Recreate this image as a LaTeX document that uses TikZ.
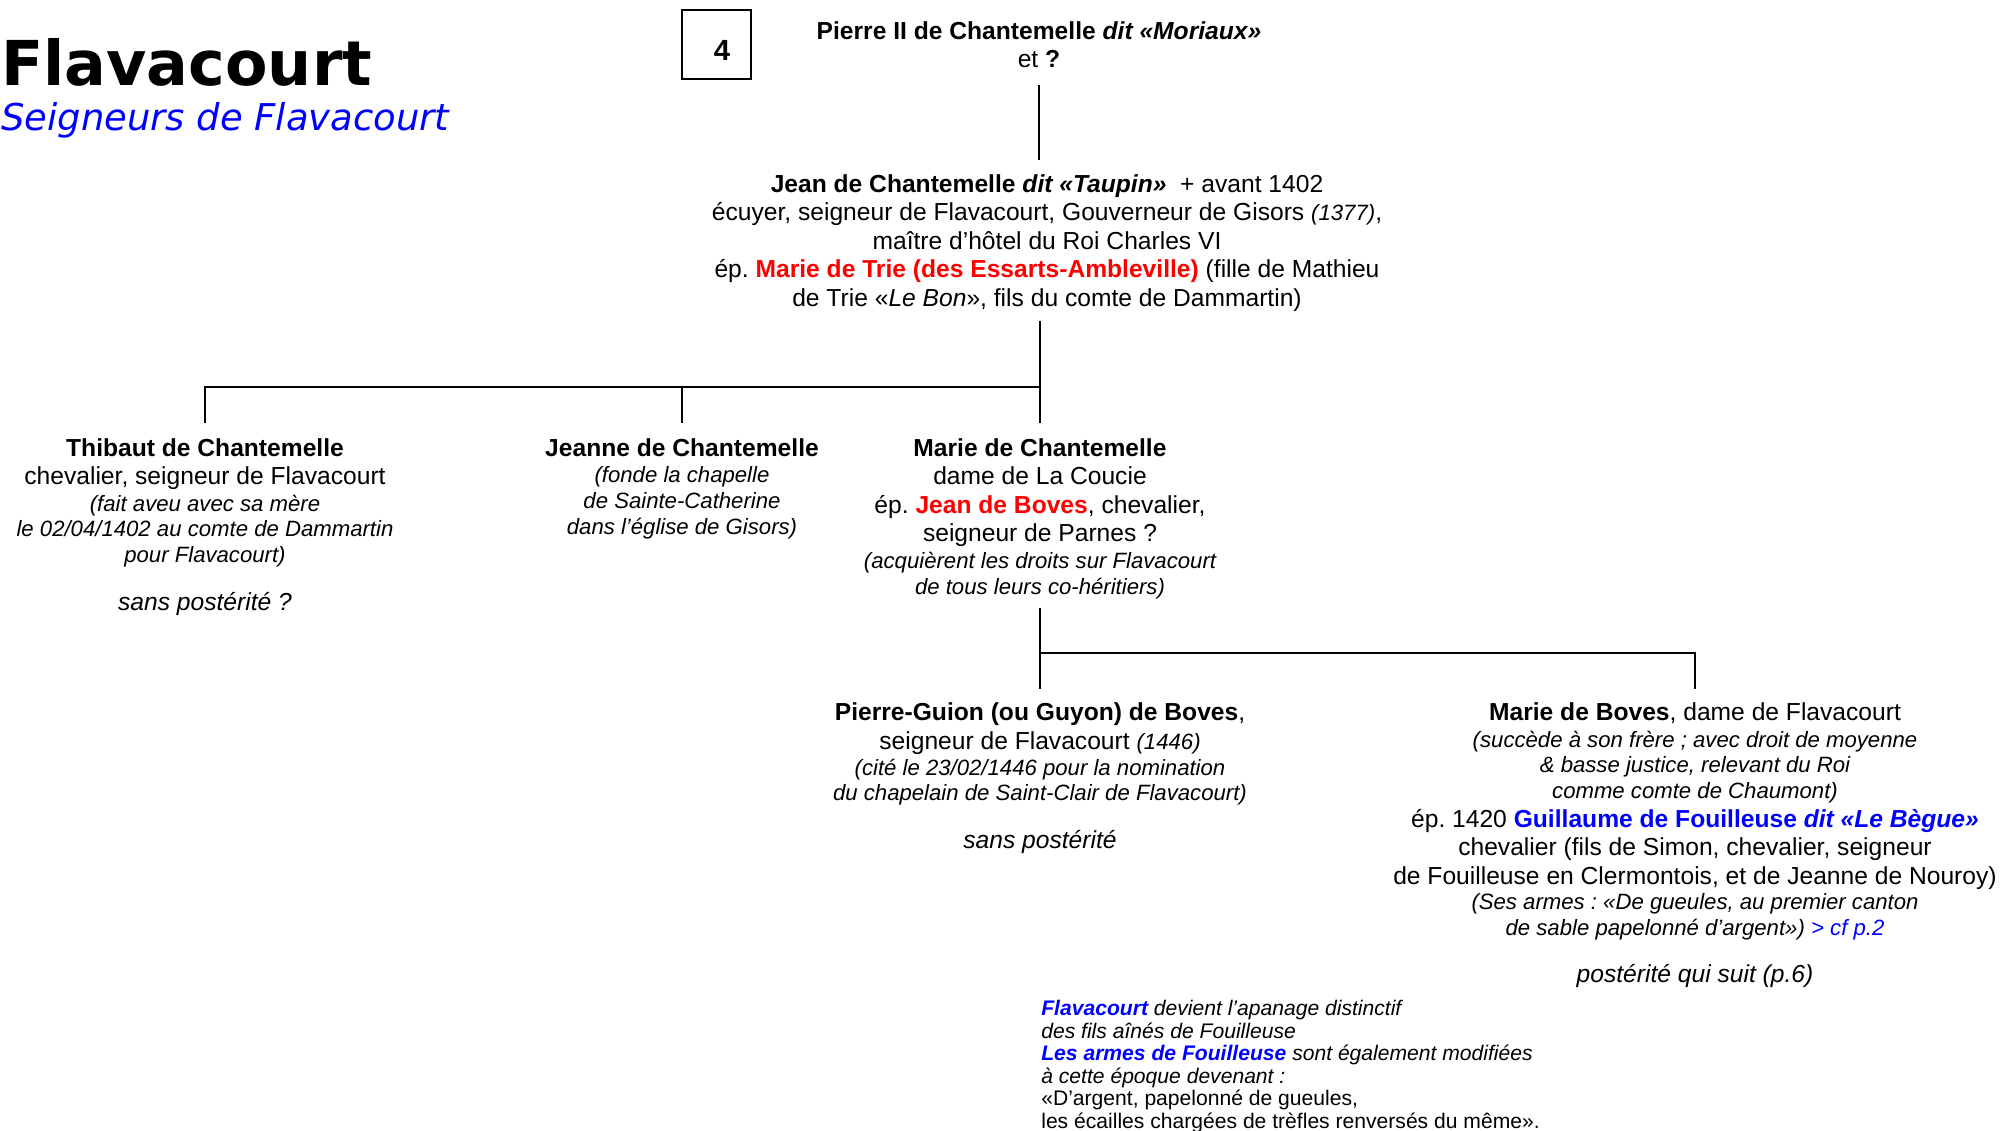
\documentclass[tikz,border=0pt]{standalone}
\usepackage{fontspec}
\setmainfont{Liberation Sans}
\newfontfamily\titlefont{DejaVu Sans}
\frenchspacing

\newcommand{\bodyfont}{\fontsize{7}{8.1}\selectfont}
\newcommand{\notefont}{\fontsize{6.3}{7.3}\selectfont\itshape}

\begin{document}
\begin{tikzpicture}[x=0.01cm,y=-0.01cm,line width=0.75pt,
  person/.style={align=center,inner sep=0pt,anchor=north,font=\bodyfont}]
\useasboundingbox (0,0) rectangle (2009,1130);

% titre
\node[anchor=base west,inner sep=0pt,font={\titlefont\bfseries\fontsize{17.6}{20}\selectfont}] (titre) at (0,85) {Flavacourt};
\node[anchor=base west,inner sep=0pt,font={\titlefont\itshape\fontsize{10.5}{12}\selectfont},text=blue] (soustitre) at (0,130) {Seigneurs de Flavacourt};

% numero de page
\node[draw,line width=0.4pt,minimum width=0.69cm,minimum height=0.69cm] (page) at (716.5,44.5) {};
\node[inner sep=0pt,font={\bfseries\fontsize{8.3}{9}\selectfont}] (num) at (722,50.5) {4};

% generation 1
\node[person] (pierre) at (1039,20) {\textbf{Pierre II de Chantemelle \textit{dit «Moriaux»}}\\et \textbf{?}};

% generation 2
\node[person] (jean) at (1047,173) {\textbf{Jean de Chantemelle \textit{dit «Taupin»}}\ \ + avant 1402\\
  écuyer, seigneur de Flavacourt, Gouverneur de Gisors {\notefont(1377)},\\
  maître d’hôtel du Roi Charles VI\\
  ép. \textcolor{red}{\textbf{Marie de Trie (des Essarts-Ambleville)}} (fille de Mathieu\\
  de Trie «\textit{Le Bon}», fils du comte de Dammartin)};

% generation 3
\node[person] (thibaut) at (205,437) {\textbf{Thibaut de Chantemelle}\\
  chevalier, seigneur de Flavacourt\\[-0.6pt]
  {\notefont (fait aveu avec sa mère}\\[-0.8pt]
  {\notefont le 02/04/1402 au comte de Dammartin}\\[-0.8pt]
  {\notefont pour Flavacourt)}\\[5.6pt]
  \textit{sans postérité ?}};
\node[person] (jeanne) at (682,437) {\textbf{Jeanne de Chantemelle}\\[-0.6pt]
  {\notefont (fonde la chapelle}\\[-0.8pt]
  {\notefont de Sainte-Catherine}\\[-0.6pt]
  {\notefont dans l’église de Gisors)}};
\node[person] (marie) at (1040,437) {\textbf{Marie de Chantemelle}\\
  dame de La Coucie\\
  ép. \textcolor{red}{\textbf{Jean de Boves}}, chevalier,\\
  seigneur de Parnes ?\\[-0.5pt]
  {\notefont (acquièrent les droits sur Flavacourt}\\[-0.8pt]
  {\notefont de tous leurs co-héritiers)}};

% generation 4
\node[person] (guion) at (1040,701) {\textbf{Pierre-Guion (ou Guyon) de Boves},\\[0.2pt]
  seigneur de Flavacourt {\notefont (1446)}\\[-0.8pt]
  {\notefont (cité le 23/02/1446 pour la nomination}\\[-0.8pt]
  {\notefont du chapelain de Saint-Clair de Flavacourt)}\\[5.6pt]
  \textit{sans postérité}};
\node[person] (marieb) at (1695,701) {\textbf{Marie de Boves}, dame de Flavacourt\\[-0.4pt]
  {\notefont (succède à son frère ; avec droit de moyenne}\\[-0.8pt]
  {\notefont \& basse justice, relevant du Roi}\\[-0.8pt]
  {\notefont comme comte de Chaumont)}\\
  ép. 1420 \textcolor{blue}{\textbf{Guillaume de Fouilleuse \textit{dit «Le Bègue»}}}\\
  chevalier (fils de Simon, chevalier, seigneur\\
  de Fouilleuse en Clermontois, et de Jeanne de Nouroy)\\[-0.8pt]
  {\notefont (Ses armes : «De gueules, au premier canton}\\[-0.8pt]
  {\notefont de sable papelonné d’argent») \textcolor{blue}{> cf p.2}}\\[5.4pt]
  \textit{postérité qui suit (p.6)}};

% note
\node[anchor=north west,align=left,inner sep=0pt,font={\fontsize{6}{6.4}\selectfont}] (apanage) at (1040,999) {%
  {\itshape\textcolor{blue}{\textbf{Flavacourt}} devient l’apanage distinctif}\\
  {\itshape des fils aînés de Fouilleuse}\\
  {\itshape\textcolor{blue}{\textbf{Les armes de Fouilleuse}} sont également modifiées}\\
  {\itshape à cette époque devenant :}\\
  «D’argent, papelonné de gueules,\\
  les écailles chargées de trèfles renversés du même».};

% liens
\coordinate (fork1) at (1040,387);
\coordinate (fork2) at (1040,653);
\draw ([yshift=-4.6pt]pierre.south) -- ([yshift=3.7pt]jean.north -| pierre.south);
\draw ([yshift=-2.3pt]jean.south -| fork1) -- (fork1);
\draw (fork1) -- (fork1 -| thibaut.north) -- ([yshift=4pt]thibaut.north);
\draw (fork1 -| jeanne.north) -- ([yshift=4pt]jeanne.north);
\draw (fork1) -- ([yshift=4pt]marie.north);
\draw ([yshift=-2.3pt]marie.south) -- (fork2) -- (fork2 -| marieb.north) -- ([yshift=3.4pt]marieb.north);
\draw (fork2) -- ([yshift=3.4pt]guion.north);

\end{tikzpicture}
\end{document}
